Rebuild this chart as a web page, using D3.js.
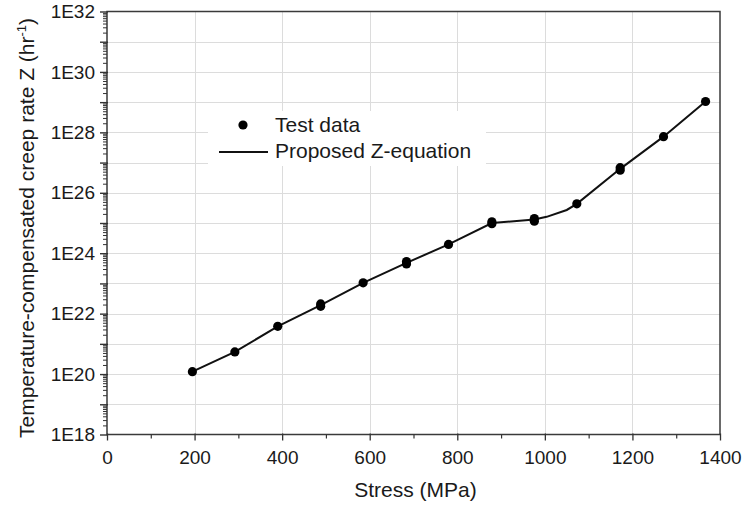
<!DOCTYPE html>
<html>
<head>
<meta charset="utf-8">
<script src="https://cdn.jsdelivr.net/npm/d3@7"></script>
<style>
  html, body { margin: 0; padding: 0; background: #fff; }
  svg { display: block; font-family: "Liberation Sans", Arial, sans-serif; }
</style>
</head>
<body>
<svg id="chart" width="745" height="509"></svg>
<script>
// Measured creep test points (stress in MPa, Z in 1/hr)
const testStress = [195, 292, 390, 488, 488, 585, 684, 684, 780, 879, 879, 976, 976, 1073, 1172, 1172, 1271, 1367];
const testRate   = [1.2e20, 5.4e20, 3.8e21, 1.75e22, 2.1e22, 1.05e23, 4.4e23, 5.3e23, 1.95e24,
                    0.95e25, 1.1e25, 1.15e25, 1.4e25, 4.3e25, 5.6e26, 6.8e26, 7.2e27, 1.05e29];

// Z-equation curve
const modelStress = [195, 292, 390, 488, 585, 684, 780, 879, 976, 1004, 1050, 1073, 1172, 1271, 1367];
const modelRate   = [1.2e20, 5.4e20, 3.8e21, 1.9e22, 1.05e23, 4.8e23, 1.95e24, 1.0e25, 1.3e25,
                     1.6e25, 2.7e25, 4.3e25, 6.2e26, 7.2e27, 1.05e29];

const xTicks = [0, 200, 400, 600, 800, 1000, 1200, 1400];
const xMinorTicks = [100, 300, 500, 700, 900, 1100, 1300];
const yLabelExps = [18, 20, 22, 24, 26, 28, 30, 32];

const legendItems = ["Test data", "Proposed Z-equation"];

const plot = { left: 107, right: 720, top: 11.5, bottom: 434.5 };
const svg = d3.select("#chart");

const x = d3.scaleLinear().domain([0, 1400]).range([plot.left, plot.right]);
const y = d3.scaleLog().domain([1e18, 1e32]).range([plot.bottom, plot.top]);

const decades = d3.range(18, 33).map(e => Math.pow(10, e));
const minorY = [];
for (let e = 18; e < 32; e++) for (let k = 2; k <= 9; k++) minorY.push(k * Math.pow(10, e));

// grid
const grid = svg.append("g").attr("stroke", "#dcdcdc").attr("stroke-width", 1);
grid.selectAll("line.gx").data(xTicks.slice(1, -1)).join("line")
  .attr("x1", d => Math.round(x(d)) + 0.5).attr("x2", d => Math.round(x(d)) + 0.5)
  .attr("y1", plot.top).attr("y2", plot.bottom);
grid.selectAll("line.gy").data(decades.slice(1, -1)).join("line")
  .attr("y1", d => Math.round(y(d)) + 0.5).attr("y2", d => Math.round(y(d)) + 0.5)
  .attr("x1", plot.left).attr("x2", plot.right);

// frame
svg.append("rect")
  .attr("x", plot.left).attr("y", plot.top)
  .attr("width", plot.right - plot.left).attr("height", plot.bottom - plot.top)
  .attr("fill", "none").attr("stroke", "#3a3a3a").attr("stroke-width", 1.5);

// x axis
const fmt = d3.format("d");
const xAxis = svg.append("g").attr("transform", `translate(0,${plot.bottom})`);
xAxis.call(d3.axisBottom(x).tickValues(xTicks).tickSize(6).tickPadding(10).tickFormat(fmt))
  .call(g => g.select(".domain").remove())
  .call(g => g.selectAll("line").attr("stroke", "#333").attr("stroke-width", 1.3).attr("y1", -1))
  .call(g => g.selectAll("text").attr("font-size", 19).attr("fill", "#1a1a1a")
    .attr("font-family", "Liberation Sans, Arial, sans-serif"));
svg.append("g").attr("transform", `translate(0,${plot.bottom})`)
  .call(d3.axisBottom(x).tickValues(xMinorTicks).tickSize(4).tickFormat(""))
  .call(g => g.select(".domain").remove())
  .call(g => g.selectAll("line").attr("stroke", "#333").attr("stroke-width", 1.2));

// y axis: minor ticks, decade ticks, labels every second decade
svg.append("g").attr("transform", `translate(${plot.left},0)`)
  .call(d3.axisLeft(y).tickValues(minorY).tickSize(4).tickFormat(""))
  .call(g => g.select(".domain").remove())
  .call(g => g.selectAll("line").attr("stroke", "#333").attr("stroke-width", 1));
svg.append("g").attr("transform", `translate(${plot.left},0)`)
  .call(d3.axisLeft(y).tickValues(decades).tickSize(7).tickFormat(""))
  .call(g => g.select(".domain").remove())
  .call(g => g.selectAll("line").attr("stroke", "#333").attr("stroke-width", 1.4).attr("x1", 1));
svg.append("g").selectAll("text").data(yLabelExps).join("text")
  .attr("x", 95).attr("y", d => y(Math.pow(10, d)))
  .attr("dy", "0.35em").attr("text-anchor", "end")
  .attr("font-size", 19).attr("fill", "#1a1a1a")
  .text(d => "1E" + d);

// axis titles
svg.append("text")
  .attr("x", (plot.left + plot.right) / 2 + 2).attr("y", 497)
  .attr("text-anchor", "middle").attr("font-size", 21).attr("fill", "#1a1a1a")
  .text("Stress (MPa)");
const yt = svg.append("text")
  .attr("transform", "translate(34,228) rotate(-90)")
  .attr("text-anchor", "middle").attr("font-size", 21).attr("fill", "#1a1a1a");
yt.append("tspan").text("Temperature-compensated creep rate Z (hr");
yt.append("tspan").attr("font-size", 13).attr("dy", -8).text("-1");
yt.append("tspan").attr("dy", 8).text(")");

// model curve
const pts = modelStress.map((s, i) => [s, modelRate[i]]);
svg.append("path").datum(pts)
  .attr("fill", "none").attr("stroke", "#111").attr("stroke-width", 2)
  .attr("d", d3.line().x(d => x(d[0])).y(d => y(d[1])));

// test data
svg.append("g").selectAll("circle").data(testStress.map((s, i) => [s, testRate[i]])).join("circle")
  .attr("cx", d => x(d[0])).attr("cy", d => y(d[1])).attr("r", 4.6).attr("fill", "#000");

// legend
const lg = svg.append("g");
lg.append("rect").attr("x", 208).attr("y", 111).attr("width", 278).attr("height", 55).attr("fill", "#fff");
lg.append("circle").attr("cx", 243).attr("cy", 125).attr("r", 4.6).attr("fill", "#000");
lg.append("line").attr("x1", 219).attr("x2", 268).attr("y1", 152).attr("y2", 152)
  .attr("stroke", "#111").attr("stroke-width", 2);
lg.selectAll("text").data(legendItems).join("text")
  .attr("x", 275).attr("y", (d, i) => 132 + i * 26)
  .attr("font-size", 21).attr("fill", "#1a1a1a").text(d => d);
</script>
</body>
</html>
